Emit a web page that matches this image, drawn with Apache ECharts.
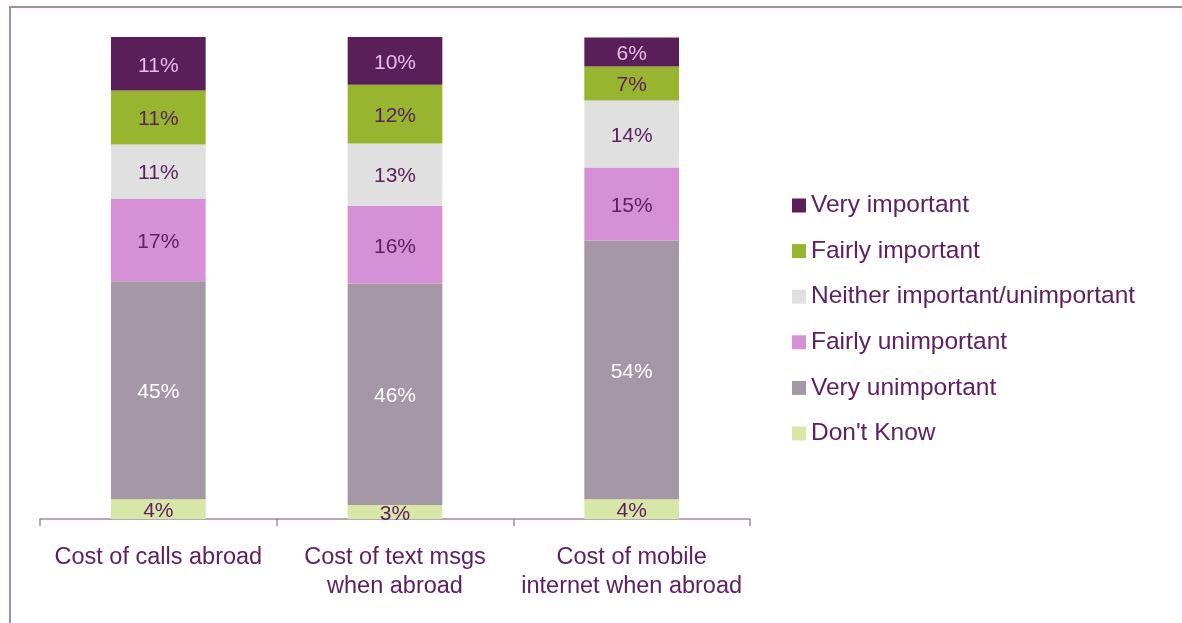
<!DOCTYPE html>
<html>
<head>
<meta charset="utf-8">
<script src="https://cdn.jsdelivr.net/npm/echarts@6/dist/echarts.min.js"></script>
<style>
  html, body { margin: 0; padding: 0; background: #fff; }
  #chart { width: 1182px; height: 623px; }
</style>
</head>
<body>
<div id="chart"></div>
<script>
// categories on the x axis
var categories = ['Cost of calls abroad', 'Cost of text msgs\nwhen abroad', 'Cost of mobile\ninternet when abroad'];

// values per answer, bottom of stack first
var dontKnow      = [4.1, 2.9, 4.1];
var veryUnimp     = [45.2, 45.9, 53.7];
var fairlyUnimp   = [17.2, 16.2, 15.1];
var neither       = [11.2, 12.9, 13.9];
var fairlyImp     = [11.2, 12.2, 7.1];
var veryImp       = [11.1, 10.0, 6.0];

var legendOrder = ['Very important', 'Fairly important', 'Neither important/unimportant',
  'Fairly unimportant', 'Very unimportant', "Don't Know"];

var purple = '#5E2060';
var fontFam = 'Liberation Sans, Arial, sans-serif';

function bar(name, data, color, labelColor) {
  return {
    name: name,
    type: 'bar',
    stack: 'all',
    barWidth: '40%',
    data: data,
    itemStyle: { color: color },
    label: {
      show: true,
      position: 'inside',
      offset: [0, 2],
      color: labelColor,
      fontSize: 21,
      fontFamily: fontFam,
      formatter: function (p) { return Math.round(p.value) + '%'; }
    }
  };
}

var chart = echarts.init(document.getElementById('chart'));
chart.setOption({
  animation: false,
  backgroundColor: '#fff',
  graphic: [{
    type: 'rect',
    shape: { x: 10, y: 7, width: 1300, height: 700 },
    style: { fill: null, stroke: '#A38FA3', lineWidth: 2 },
    silent: true
  }],
  grid: { left: 40, right: 432, top: 37, bottom: 104 },
  legend: {
    orient: 'vertical',
    left: 787,
    top: 188,
    data: legendOrder,
    icon: 'rect',
    itemWidth: 14,
    itemHeight: 14,
    itemGap: 20.6,
    textStyle: { color: purple, fontSize: 24.5, fontFamily: fontFam, lineHeight: 24 }
  },
  xAxis: {
    type: 'category',
    data: categories,
    axisLine: { lineStyle: { color: '#A08CA0', width: 1.5 } },
    axisTick: { show: true, length: 7, lineStyle: { color: '#A08CA0', width: 1.5 } },
    axisLabel: {
      color: purple,
      fontSize: 23.5,
      fontFamily: fontFam,
      lineHeight: 29,
      margin: 24,
      interval: 0
    }
  },
  yAxis: {
    type: 'value',
    min: 0,
    max: 100,
    show: false
  },
  series: [
    bar("Don't Know", dontKnow, '#D8E6A8', purple),
    bar('Very unimportant', veryUnimp, '#A497A6', '#ffffff'),
    bar('Fairly unimportant', fairlyUnimp, '#D690D6', purple),
    bar('Neither important/unimportant', neither, '#E0E0E0', purple),
    bar('Fairly important', fairlyImp, '#97B52F', purple),
    bar('Very important', veryImp, '#5A1F58', '#E8BDE8')
  ]
});
</script>
</body>
</html>
